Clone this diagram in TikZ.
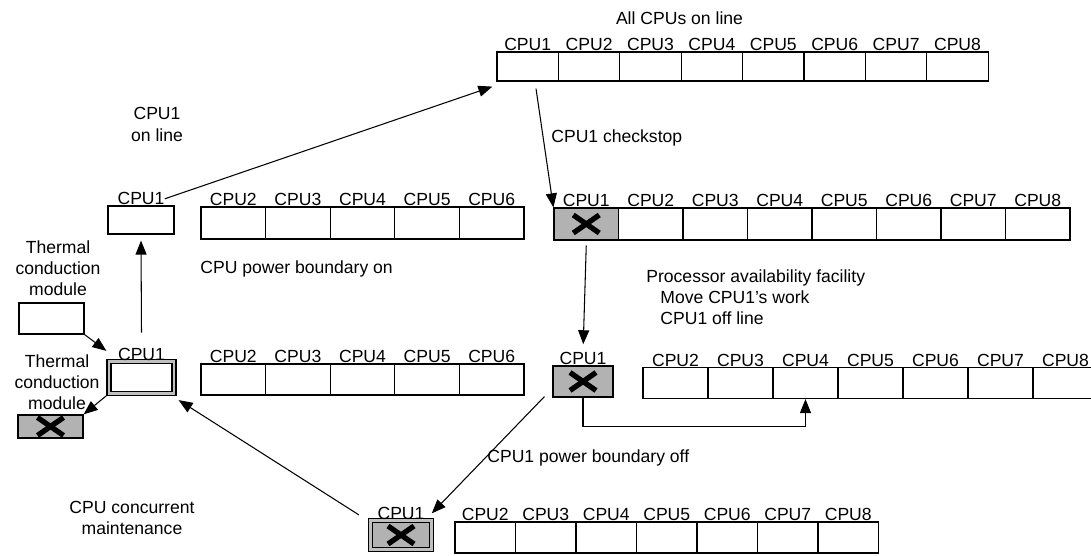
\documentclass[tikz,border=0pt]{standalone}
\usepackage{fontspec}
\setmainfont{Liberation Sans}
\usetikzlibrary{arrows.meta}
\pgfdeclarelayer{edgelayer}
\pgfdeclarelayer{nodelayer}
\pgfsetlayers{edgelayer,nodelayer,main}
\tikzstyle{edge}=[draw=black, line width=0.6pt, -{Triangle[length=0.28cm, width=0.22cm]}]
\tikzstyle{every label}=[inner sep=0pt]
\tikzstyle{cell}=[rectangle, fill=white, draw=black, line width=0.7pt, inner sep=0pt]
\tikzstyle{xmark}=[fill=black!30, path picture={
	\draw [line width=3pt] ([shift={(-0.26,-0.18)}]path picture bounding box.center) -- ([shift={(0.26,0.18)}]path picture bounding box.center);
	\draw [line width=3pt] ([shift={(-0.26,0.18)}]path picture bounding box.center) -- ([shift={(0.26,-0.18)}]path picture bounding box.center);}]
\tikzstyle{twin}=[double=black!25, double distance=1.5pt]
\tikzstyle{slotA}=[cell, minimum width=1.228cm, minimum height=0.58cm, label distance=4pt]
\tikzstyle{slotB}=[cell, minimum width=1.29cm, minimum height=0.64cm, label distance=1pt]
\tikzstyle{slotC}=[cell, minimum width=1.292cm, minimum height=0.64cm, label distance=3.4pt]
\tikzstyle{slotD}=[cell, minimum width=1.292cm, minimum height=0.62cm, label distance=2.5pt]
\tikzstyle{slotE}=[cell, minimum width=1.3cm, minimum height=0.62cm, label distance=2.3pt]
\tikzstyle{slotF}=[cell, minimum width=1.21cm, minimum height=0.62cm, label distance=5pt]
\tikzstyle{note}=[align=center, inner sep=0pt]

\begin{document}
\begin{tikzpicture}[font=\fontsize{10}{12}\selectfont]
				\useasboundingbox (0, 0) rectangle (21.82, 11.12);
				\begin{pgfonlayer}{nodelayer}
					\clip (0, 0) rectangle (21.82, 11.12);
					% all CPUs on line
					\node [style=note] (alltxt) at (13.59, 10.76) {All CPUs on line};
					\node [style=slotA, label=above:CPU1] (a1) at (10.554, 9.79) {};
					\node [style=slotA, label=above:CPU2] (a2) at (11.782, 9.79) {};
					\node [style=slotA, label=above:CPU3] (a3) at (13.01, 9.79) {};
					\node [style=slotA, label=above:CPU4] (a4) at (14.238, 9.79) {};
					\node [style=slotA, label=above:CPU5] (a5) at (15.466, 9.79) {};
					\node [style=slotA, label=above:CPU6] (a6) at (16.694, 9.79) {};
					\node [style=slotA, label=above:CPU7] (a7) at (17.922, 9.79) {};
					\node [style=slotA, label=above:CPU8] (a8) at (19.15, 9.79) {};
					% checkstop
					\node [style=note, anchor=west] (chktxt) at (11.02, 8.36) {CPU1 checkstop};
					\node [style=slotB, style=xmark, label=above:CPU1] (b1) at (11.725, 6.64) {};
					\node [style=slotB, label=above:CPU2] (b2) at (13.015, 6.64) {};
					\node [style=slotB, label=above:CPU3] (b3) at (14.305, 6.64) {};
					\node [style=slotB, label=above:CPU4] (b4) at (15.595, 6.64) {};
					\node [style=slotB, label=above:CPU5] (b5) at (16.885, 6.64) {};
					\node [style=slotB, label=above:CPU6] (b6) at (18.175, 6.64) {};
					\node [style=slotB, label=above:CPU7] (b7) at (19.465, 6.64) {};
					\node [style=slotB, label=above:CPU8] (b8) at (20.755, 6.64) {};
					% CPU1 back on line
					\node [style=note] (ontxt) at (3.14, 8.63) {CPU1\\on line};
					\node [style=cell, minimum width=1.32cm, minimum height=0.56cm, label distance=3.4pt, label={[name=c1lab]above:CPU1}] (c1) at (2.82, 6.72) {};
					\node [style=slotC, label=above:CPU2] (c2) at (4.666, 6.66) {};
					\node [style=slotC, label=above:CPU3] (c3) at (5.958, 6.66) {};
					\node [style=slotC, label=above:CPU4] (c4) at (7.25, 6.66) {};
					\node [style=slotC, label=above:CPU5] (c5) at (8.542, 6.66) {};
					\node [style=slotC, label=above:CPU6] (c6) at (9.834, 6.66) {};
					\node [style=note] (tcm1txt) at (1.16, 5.76) {Thermal\\conduction\\module};
					\node [style=cell, minimum width=1.3cm, minimum height=0.62cm] (t1) at (1.03, 4.75) {};
					\node [style=note, anchor=west] (pontxt) at (4.0, 5.74) {CPU power boundary on};
					% module replaced
					\node [style=cell, style=twin, minimum width=1.3cm, minimum height=0.64cm, label distance=2.3pt, label={[name=d1lab]above:CPU1}] (d1) at (2.83, 3.57) {};
					\node [style=slotD, label=above:CPU2] (d2) at (4.666, 3.53) {};
					\node [style=slotD, label=above:CPU3] (d3) at (5.958, 3.53) {};
					\node [style=slotD, label=above:CPU4] (d4) at (7.25, 3.53) {};
					\node [style=slotD, label=above:CPU5] (d5) at (8.542, 3.53) {};
					\node [style=slotD, label=above:CPU6] (d6) at (9.834, 3.53) {};
					\node [style=note] (tcm2txt) at (1.14, 3.48) {Thermal\\conduction\\module};
					\node [style=cell, style=xmark, minimum width=1.3cm, minimum height=0.46cm] (t2) at (1.01, 2.59) {};
					% CPU1 off line
					\node [style=note, anchor=west, align=left] (paftxt) at (12.92, 5.18) {Processor availability facility\\\hspace*{8pt}Move CPU1's work\\\hspace*{8pt}CPU1 off line};
					\node [style=slotE, style=xmark, minimum width=1.2cm, label={[name=e1lab]above:CPU1}] (e1) at (11.66, 3.49) {};
					\node [style=slotE, label=above:CPU2] (e2) at (13.51, 3.46) {};
					\node [style=slotE, label=above:CPU3] (e3) at (14.81, 3.46) {};
					\node [style=slotE, label=above:CPU4] (e4) at (16.11, 3.46) {};
					\node [style=slotE, label=above:CPU5] (e5) at (17.41, 3.46) {};
					\node [style=slotE, label=above:CPU6] (e6) at (18.71, 3.46) {};
					\node [style=slotE, label=above:CPU7] (e7) at (20.01, 3.46) {};
					\node [style=slotE, label=above:CPU8] (e8) at (21.31, 3.46) {};
					% power boundary off
					\node [style=note, anchor=west] (pofftxt) at (9.74, 1.96) {CPU1 power boundary off};
					\node [style=cell, style=twin, style=xmark, minimum width=1.22cm, minimum height=0.58cm, label distance=5pt, label={[name=f1lab]above:CPU1}] (f1) at (8.02, 0.42) {};
					\node [style=slotF, label=above:CPU2] (f2) at (9.705, 0.37) {};
					\node [style=slotF, label=above:CPU3] (f3) at (10.915, 0.37) {};
					\node [style=slotF, label=above:CPU4] (f4) at (12.125, 0.37) {};
					\node [style=slotF, label=above:CPU5] (f5) at (13.335, 0.37) {};
					\node [style=slotF, label=above:CPU6] (f6) at (14.545, 0.37) {};
					\node [style=slotF, label=above:CPU7] (f7) at (15.755, 0.37) {};
					\node [style=slotF, label=above:CPU8] (f8) at (16.965, 0.37) {};
					\node [style=note] (ccmtxt) at (2.64, 0.77) {CPU concurrent\\maintenance};
				\end{pgfonlayer}
				\begin{pgfonlayer}{edgelayer}
					\draw [style=edge] (c1lab.east) to ([shift={(-0.08,-0.1)}]a1.south west);
					\draw [style=edge] ([shift={(0.166,-0.14)}]a1.south) to (b1.north west);
					\draw [style=edge, shorten >=0.16cm] ([yshift=-0.1cm]b1.south) to (e1lab.north);
					\draw [style=edge] (e1.south) -- ++(0, -0.58) -| (e4.south);
					\draw [style=edge] ([shift={(-0.16,0.02)}]e1.south west) to ([xshift=0.14cm]f1lab.east);
					\draw [style=edge] ([shift={(-0.22,0.1)}]f1.north west) to ([shift={(0.08,-0.12)}]d1.south east);
					\draw [style=edge] ([yshift=0.3cm]d1lab.north) to ([yshift=-0.12cm]c1.south);
					\draw [style=edge] (t1.south east) to ([shift={(-0.04,0.2)}]d1.north west);
					\draw [style=edge] (d1.south west) to (t2.north east);
				\end{pgfonlayer}
			\end{tikzpicture}
\end{document}
